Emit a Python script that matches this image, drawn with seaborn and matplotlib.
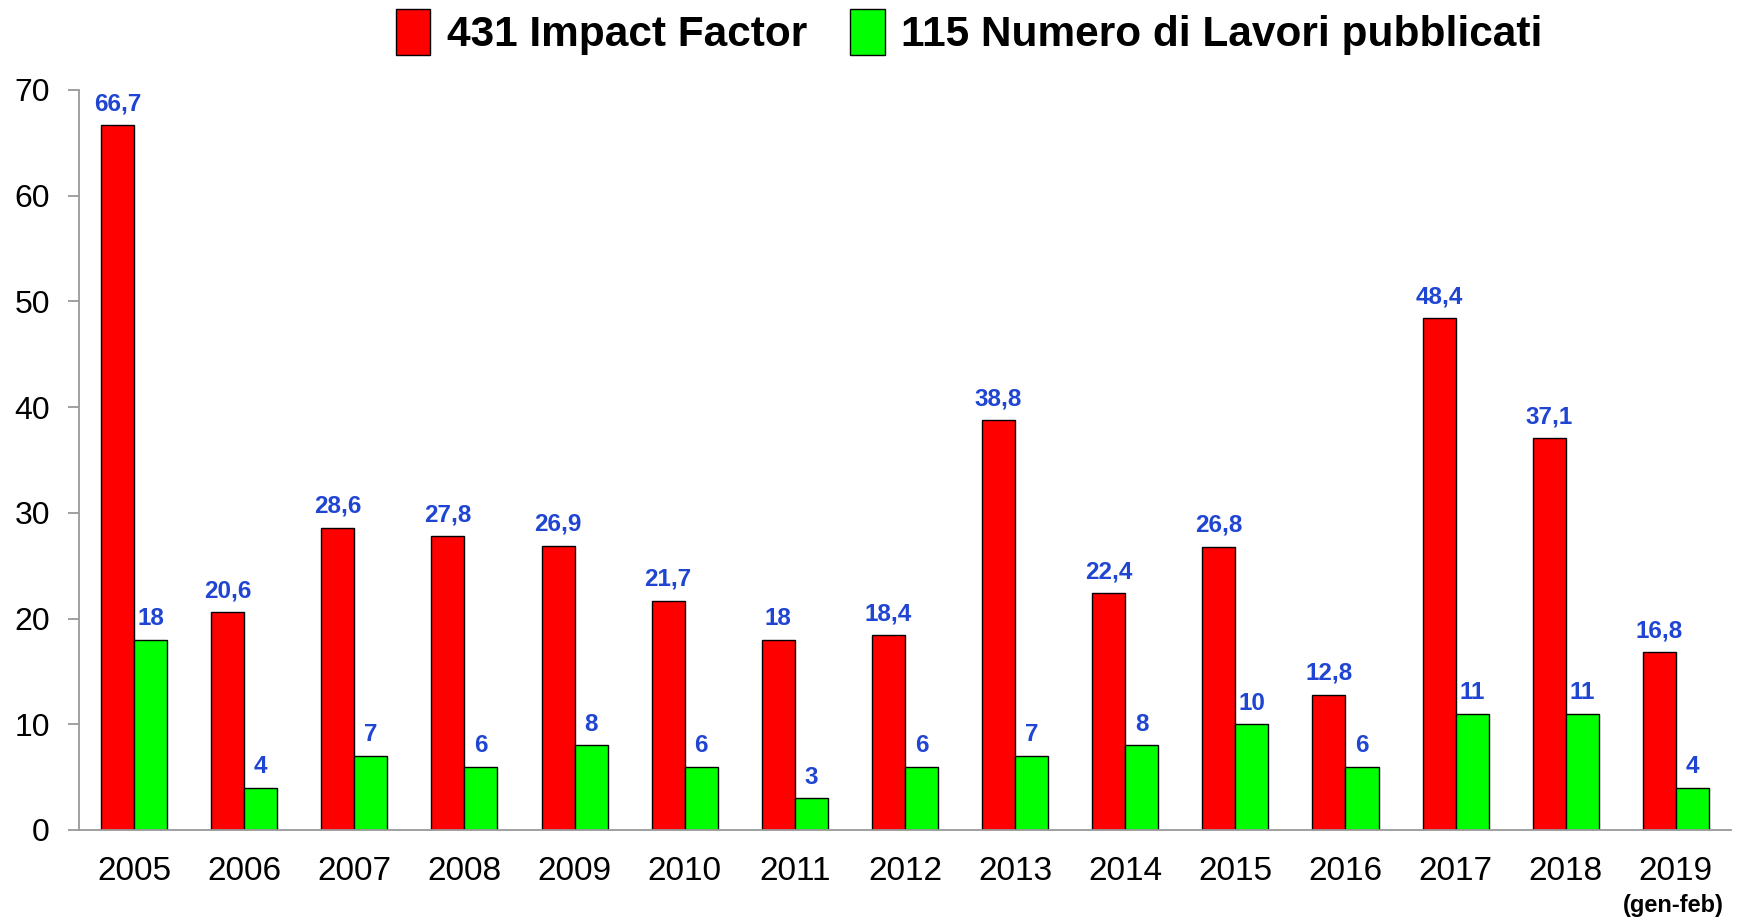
import matplotlib
matplotlib.use("Agg")
import matplotlib.pyplot as plt
from matplotlib.patches import Patch
import numpy as np
import pandas as pd
import seaborn as sns

years = ["2005", "2006", "2007", "2008", "2009", "2010", "2011", "2012",
         "2013", "2014", "2015", "2016", "2017", "2018", "2019"]
impact_factor = [66.7, 20.6, 28.6, 27.8, 26.9, 21.7, 18, 18.4,
                 38.8, 22.4, 26.8, 12.8, 48.4, 37.1, 16.8]
num_lavori = [18, 4, 7, 6, 8, 6, 3, 6, 7, 8, 10, 6, 11, 11, 4]
series_names = ["431 Impact Factor", "115 Numero di Lavori pubblicati"]
colors = ["#ff0000", "#00ff00"]
label_color = "#1f45d2"


def fmt(v):
    # italian decimal comma
    return f"{v:g}".replace(".", ",")


sns.set_theme(style="white", rc={"text.color": "black",
                                 "xtick.color": "black",
                                 "ytick.color": "black"})
plt.rcParams["font.family"] = ["Liberation Sans", "DejaVu Sans"]

df = pd.DataFrame({
    "anno": years * 2,
    "valore": impact_factor + num_lavori,
    "serie": [series_names[0]] * len(years) + [series_names[1]] * len(years),
})

fig = plt.figure(figsize=(17.4, 9.17), dpi=100)
ax = fig.add_axes([0.0454, 0.0949, 0.9494, 0.807])

sns.barplot(data=df, x="anno", y="valore", hue="serie", palette=colors,
            width=0.6, edgecolor="black", linewidth=1, saturation=1,
            legend=False, ax=ax)

for container, vals in zip(ax.containers, [impact_factor, num_lavori]):
    ax.bar_label(container, labels=[fmt(v) for v in vals], padding=7,
                 color=label_color, fontsize=17.5, fontweight="bold")

ax.set_xlim(-0.5, len(years) - 0.5)
ax.set_ylim(0, 70)
ax.set_yticks(np.arange(0, 71, 10))
ax.set_xlabel("")
ax.set_ylabel("")

for side in ["top", "right"]:
    ax.spines[side].set_visible(False)
for side in ["left", "bottom"]:
    ax.spines[side].set_color("#999999")
    ax.spines[side].set_linewidth(1.3)

ax.set_xticks(np.arange(-0.5, len(years), 1.0), minor=True)
ax.tick_params(axis="x", which="major", length=0, pad=19, labelsize=24,
               labelcolor="black")
ax.tick_params(axis="x", which="minor", length=8, width=1.3, color="#999999",
               direction="out")
ax.tick_params(axis="y", length=8, width=1.3, color="#999999", pad=13,
               labelsize=23, left=True, labelcolor="black")

ax.text(len(years) - 1.02, -0.086, "(gen-feb)", transform=ax.get_xaxis_transform(),
        ha="center", va="top", fontsize=17, fontweight="bold", color="black")

handles = [Patch(facecolor=c, edgecolor="black", linewidth=1) for c in colors]
fig.legend(handles, series_names, loc="center", bbox_to_anchor=(0.557, 0.965),
           ncol=2, frameon=False, prop={"size": 30.5, "weight": "bold"},
           handlelength=0.82, handleheight=1.3, handletextpad=0.4,
           columnspacing=1.0, labelcolor="black")

fig.savefig("out.png", dpi=100)
